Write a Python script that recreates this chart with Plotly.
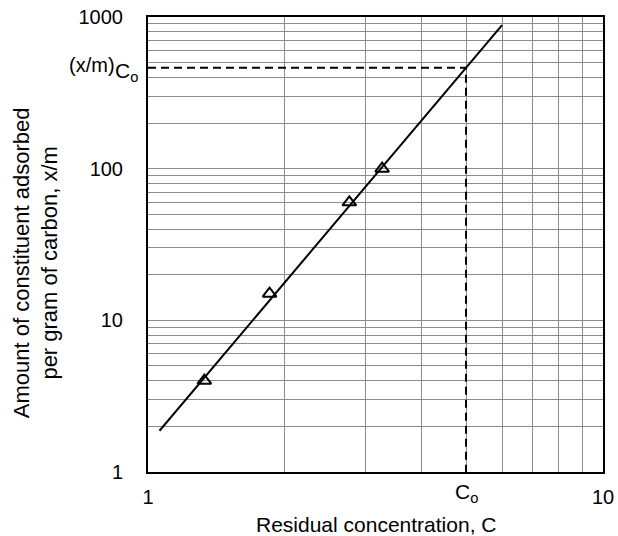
import plotly.graph_objects as go

# observed points (triangles)
conc_pts = [1.33, 1.85, 2.77, 3.27]
xm_pts = [4.0, 15.0, 60.0, 100.0]

# fitted Freundlich line (end points)
conc_fit = [1.06, 6.0]
xm_fit = [1.87, 885.0]

# C0 and (x/m)C0 reference
c0 = 5.0
xm_c0 = 463.0

x_ticks = [1, 10]
y_ticks = [1, 10, 100, 1000]

font = "Liberation Sans, Arial, sans-serif"
grid = "#8c8c8c"

fig = go.Figure()

# dashed guide lines
fig.add_trace(go.Scatter(
    x=[1, c0, c0], y=[xm_c0, xm_c0, 1],
    mode="lines", line={"color": "black", "width": 2, "dash": "8px,5px"},
    showlegend=False, hoverinfo="skip",
))

fig.add_trace(go.Scatter(
    x=conc_fit, y=xm_fit, mode="lines",
    line={"color": "black", "width": 2},
    showlegend=False,
))

fig.add_trace(go.Scatter(
    x=conc_pts, y=xm_pts, mode="markers",
    marker={"symbol": "triangle-up-open", "size": 12, "color": "black",
            "line": {"width": 2}},
    showlegend=False,
))

fig.update_xaxes(
    type="log", range=[0, 1], automargin=False,
    tickvals=x_ticks, ticktext=[str(v) for v in x_ticks],
    showgrid=True, gridcolor=grid, gridwidth=1,
    minor={"showgrid": True, "gridcolor": grid, "gridwidth": 1, "dtick": "D1"},
    showline=True, linecolor="black", linewidth=2, mirror=True,
    ticks="", ticklabelstandoff=6, zeroline=False,
    tickfont={"size": 20, "color": "black", "family": font},
)
fig.update_yaxes(
    type="log", range=[0, 3], automargin=False,
    tickvals=y_ticks, ticktext=[str(v) for v in y_ticks],
    showgrid=True, gridcolor=grid, gridwidth=1,
    minor={"showgrid": True, "gridcolor": grid, "gridwidth": 1, "dtick": "D1"},
    showline=True, linecolor="black", linewidth=2, mirror=True,
    ticks="", ticklabelstandoff=19, zeroline=False,
    tickfont={"size": 20, "color": "black", "family": font},
)

# axis titles
fig.add_annotation(
    x=0.5, xref="paper", y=0, yref="paper", xanchor="center", yanchor="middle",
    yshift=-52, showarrow=False, borderpad=0,
    text="Residual concentration, C",
    font={"size": 21, "color": "black", "family": font},
)
fig.add_annotation(
    x=0, xref="paper", y=0.459, yref="paper", xanchor="center", yanchor="middle",
    xshift=-112, textangle=-90, showarrow=False, align="center",
    text="Amount of constituent adsorbed<br>per gram of carbon, x/m",
    font={"size": 22, "color": "black", "family": font},
)

# (x/m)Co label on the y axis
fig.add_annotation(
    x=0, xref="paper", y=2.6656, yref="y", xanchor="right", yanchor="middle",
    xshift=-31, yshift=3, showarrow=False,
    text="(x/m)",
    font={"size": 20, "color": "black", "family": font},
)
fig.add_annotation(
    x=0, xref="paper", y=2.6656, yref="y", xanchor="right", yanchor="middle",
    xshift=-8, yshift=-4, showarrow=False,
    text="C<sub>o</sub>",
    font={"size": 21, "color": "black", "family": font},
)
# Co label on the x axis
fig.add_annotation(
    x=0.699, xref="x", y=0, yref="paper", xanchor="center", yanchor="top",
    yshift=-6, showarrow=False,
    text="C<sub>o</sub>",
    font={"size": 21, "color": "black", "family": font},
)

fig.update_layout(
    width=618, height=536,
    margin={"l": 148, "r": 15, "t": 17, "b": 64},
    paper_bgcolor="white", plot_bgcolor="white",
    showlegend=False,
)

fig.write_html(
    "out.html",
    config={"displayModeBar": False},
    post_script="document.body.style.margin = '0';",
)
